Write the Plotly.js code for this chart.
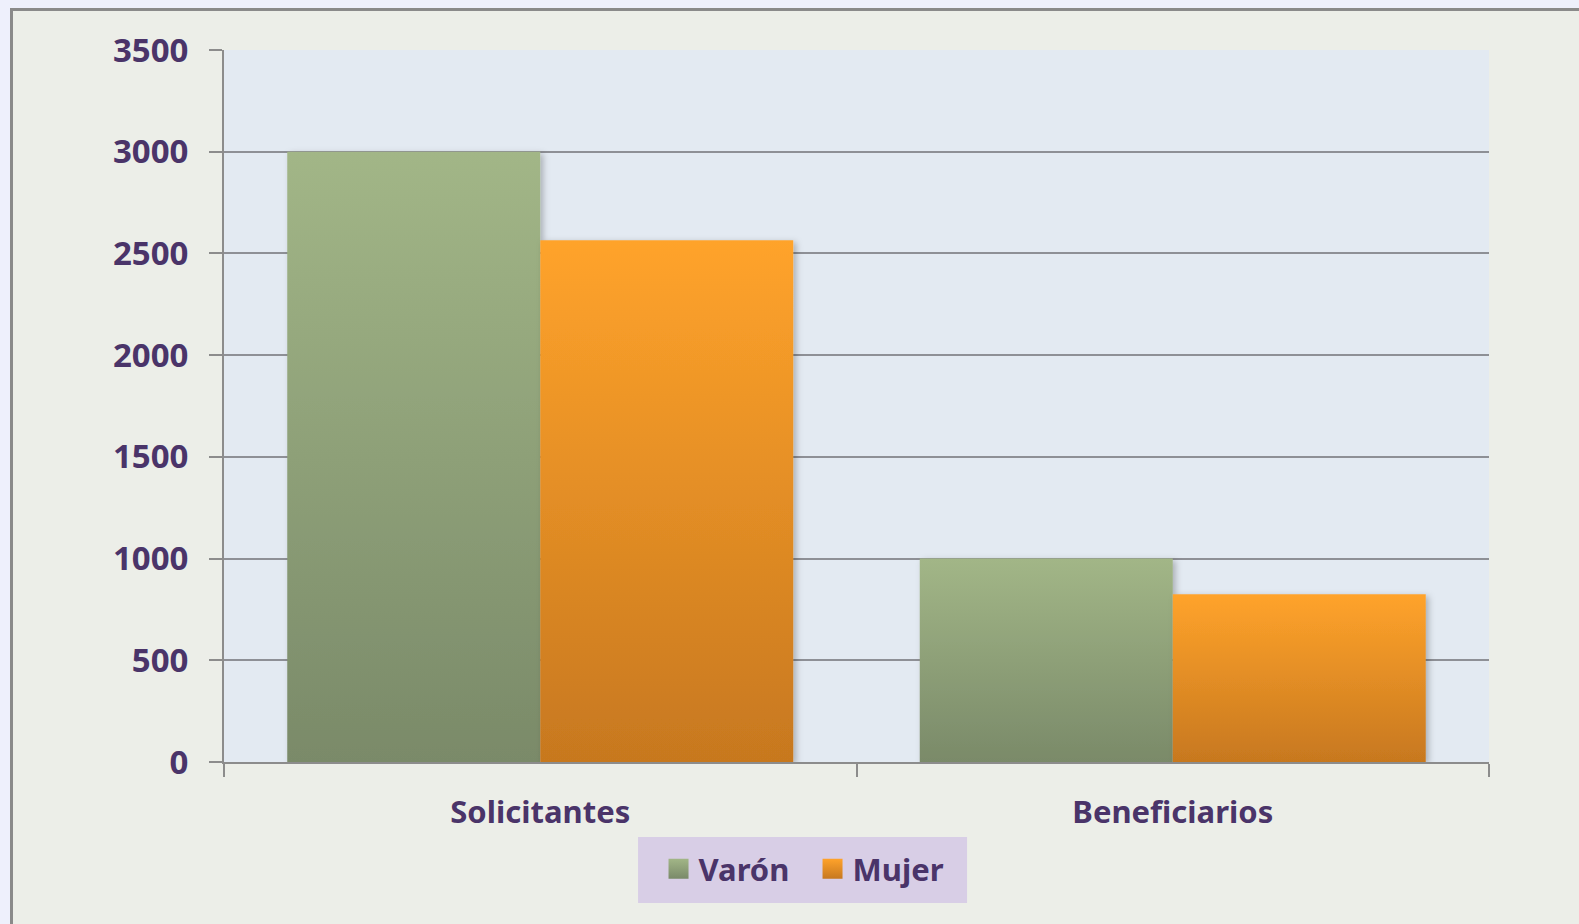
<!DOCTYPE html>
<html><head><meta charset="utf-8">
<script src="https://cdn.plot.ly/plotly-3.0.1.min.js"></script>
<style>
html,body{margin:0;padding:0;background:#EEF0FC;overflow:hidden;width:1579px;height:924px;}
#frame{position:absolute;left:10px;top:8px;width:1600px;height:950px;background:#ECEEE8;border-left:3px solid #8A8A8A;border-top:3px solid #8A8A8A;}
#chart{position:absolute;left:0;top:0;width:1579px;height:924px;}
</style></head>
<body>
<div id="frame"></div>
<div id="chart"></div>
<script>
const categories = ["Solicitantes", "Beneficiarios"];
const varon = [3000, 1000];
const mujer = [2565, 825];
const seriesNames = ["Varón", "Mujer"];

const txt = '#4A3469';
const fnt = {family: 'Noto Sans, DejaVu Sans, sans-serif', size: 31, color: txt, weight: 'bold'};
const yfnt = Object.assign({}, fnt, {size: 33});

const data = [
  {type: 'bar', x: categories, y: varon, name: seriesNames[0], marker: {color: '#90A37A', line: {width: 0}}, hoverinfo: 'skip'},
  {type: 'bar', x: categories, y: mujer, name: seriesNames[1], marker: {color: '#E8902A', line: {width: 0}}, hoverinfo: 'skip'}
];

const layout = {
  width: 1579, height: 924,
  paper_bgcolor: 'rgba(0,0,0,0)',
  plot_bgcolor: '#E3EAF2',
  margin: {l: 224, r: 90, t: 50, b: 162},
  barmode: 'group', bargap: 0.2, bargroupgap: 0,
  font: fnt,
  showlegend: true,
  legend: {orientation: 'h', x: 0.3435, xanchor: 'left', y: -0.1124, yanchor: 'top', entrywidth: 109,
           bgcolor: 'rgba(0,0,0,0)', borderwidth: 0, font: fnt, itemclick: false, itemdoubleclick: false},
  shapes: [{type: 'rect', xref: 'paper', yref: 'paper', x0: 0.3273, x1: 0.5874, y0: -0.198, y1: -0.1053,
            fillcolor: '#D8CEE6', line: {width: 0}, layer: 'below'}],
  xaxis: {type: 'category', tickson: 'boundaries', ticks: 'outside', ticklen: 13, tickwidth: 2, tickcolor: '#8C8C8C',
          showline: true, linecolor: '#8C8C8C', linewidth: 2, showgrid: false, tickfont: fnt, ticklabelstandoff: 22, fixedrange: true},
  yaxis: {range: [0, 3500], dtick: 500, tick0: 0, ticks: 'outside', ticklen: 13, tickwidth: 2, tickcolor: '#8C8C8C',
          showline: true, linecolor: '#8C8C8C', linewidth: 2, gridcolor: '#8E9096', gridwidth: 2,
          zeroline: false, tickfont: yfnt, ticklabelstandoff: 14, fixedrange: true}
};

Plotly.newPlot('chart', data, layout, {staticPlot: true, displayModeBar: false}).then(function(gd){
  const svgNS = 'http://www.w3.org/2000/svg';
  const svg = gd.querySelector('.main-svg');
  let defs = svg.querySelector('defs');
  if (!defs) { defs = document.createElementNS(svgNS, 'defs'); svg.insertBefore(defs, svg.firstChild); }
  function grad(id, top, bot){
    const g = document.createElementNS(svgNS, 'linearGradient');
    g.setAttribute('id', id); g.setAttribute('x1','0'); g.setAttribute('y1','0'); g.setAttribute('x2','0'); g.setAttribute('y2','1');
    [[0, top],[1, bot]].forEach(function(s){
      const st = document.createElementNS(svgNS, 'stop');
      st.setAttribute('offset', s[0]); st.setAttribute('stop-color', s[1]); g.appendChild(st);
    });
    defs.appendChild(g);
  }
  grad('gVaron', '#A2B687', '#7A8A69');
  grad('gMujer', '#FFA32B', '#C7781F');
  const f = document.createElementNS(svgNS, 'filter');
  f.setAttribute('id','barShadow'); f.setAttribute('x','-10%'); f.setAttribute('y','-5%'); f.setAttribute('width','130%'); f.setAttribute('height','115%');
  const ds = document.createElementNS(svgNS, 'feDropShadow');
  ds.setAttribute('dx','3'); ds.setAttribute('dy','2'); ds.setAttribute('stdDeviation','3'); ds.setAttribute('flood-color','#000'); ds.setAttribute('flood-opacity','0.25');
  f.appendChild(ds); defs.appendChild(f);
  const traces = gd.querySelectorAll('.barlayer .trace');
  const ids = ['gVaron','gMujer'];
  traces.forEach(function(t, i){
    t.querySelectorAll('path').forEach(function(p){ p.style.fill = 'url(#' + ids[i] + ')'; p.setAttribute('filter','url(#barShadow)'); });
  });
  const lt = gd.querySelectorAll('.legend .traces');
  lt.forEach(function(t, i){
    t.querySelectorAll('.legendpoints path').forEach(function(p){
      p.setAttribute('d','M10,10H-10V-10H10Z'); p.style.fill = 'url(#' + ids[i] + ')';
    });
  });
});
</script>
</body></html>
